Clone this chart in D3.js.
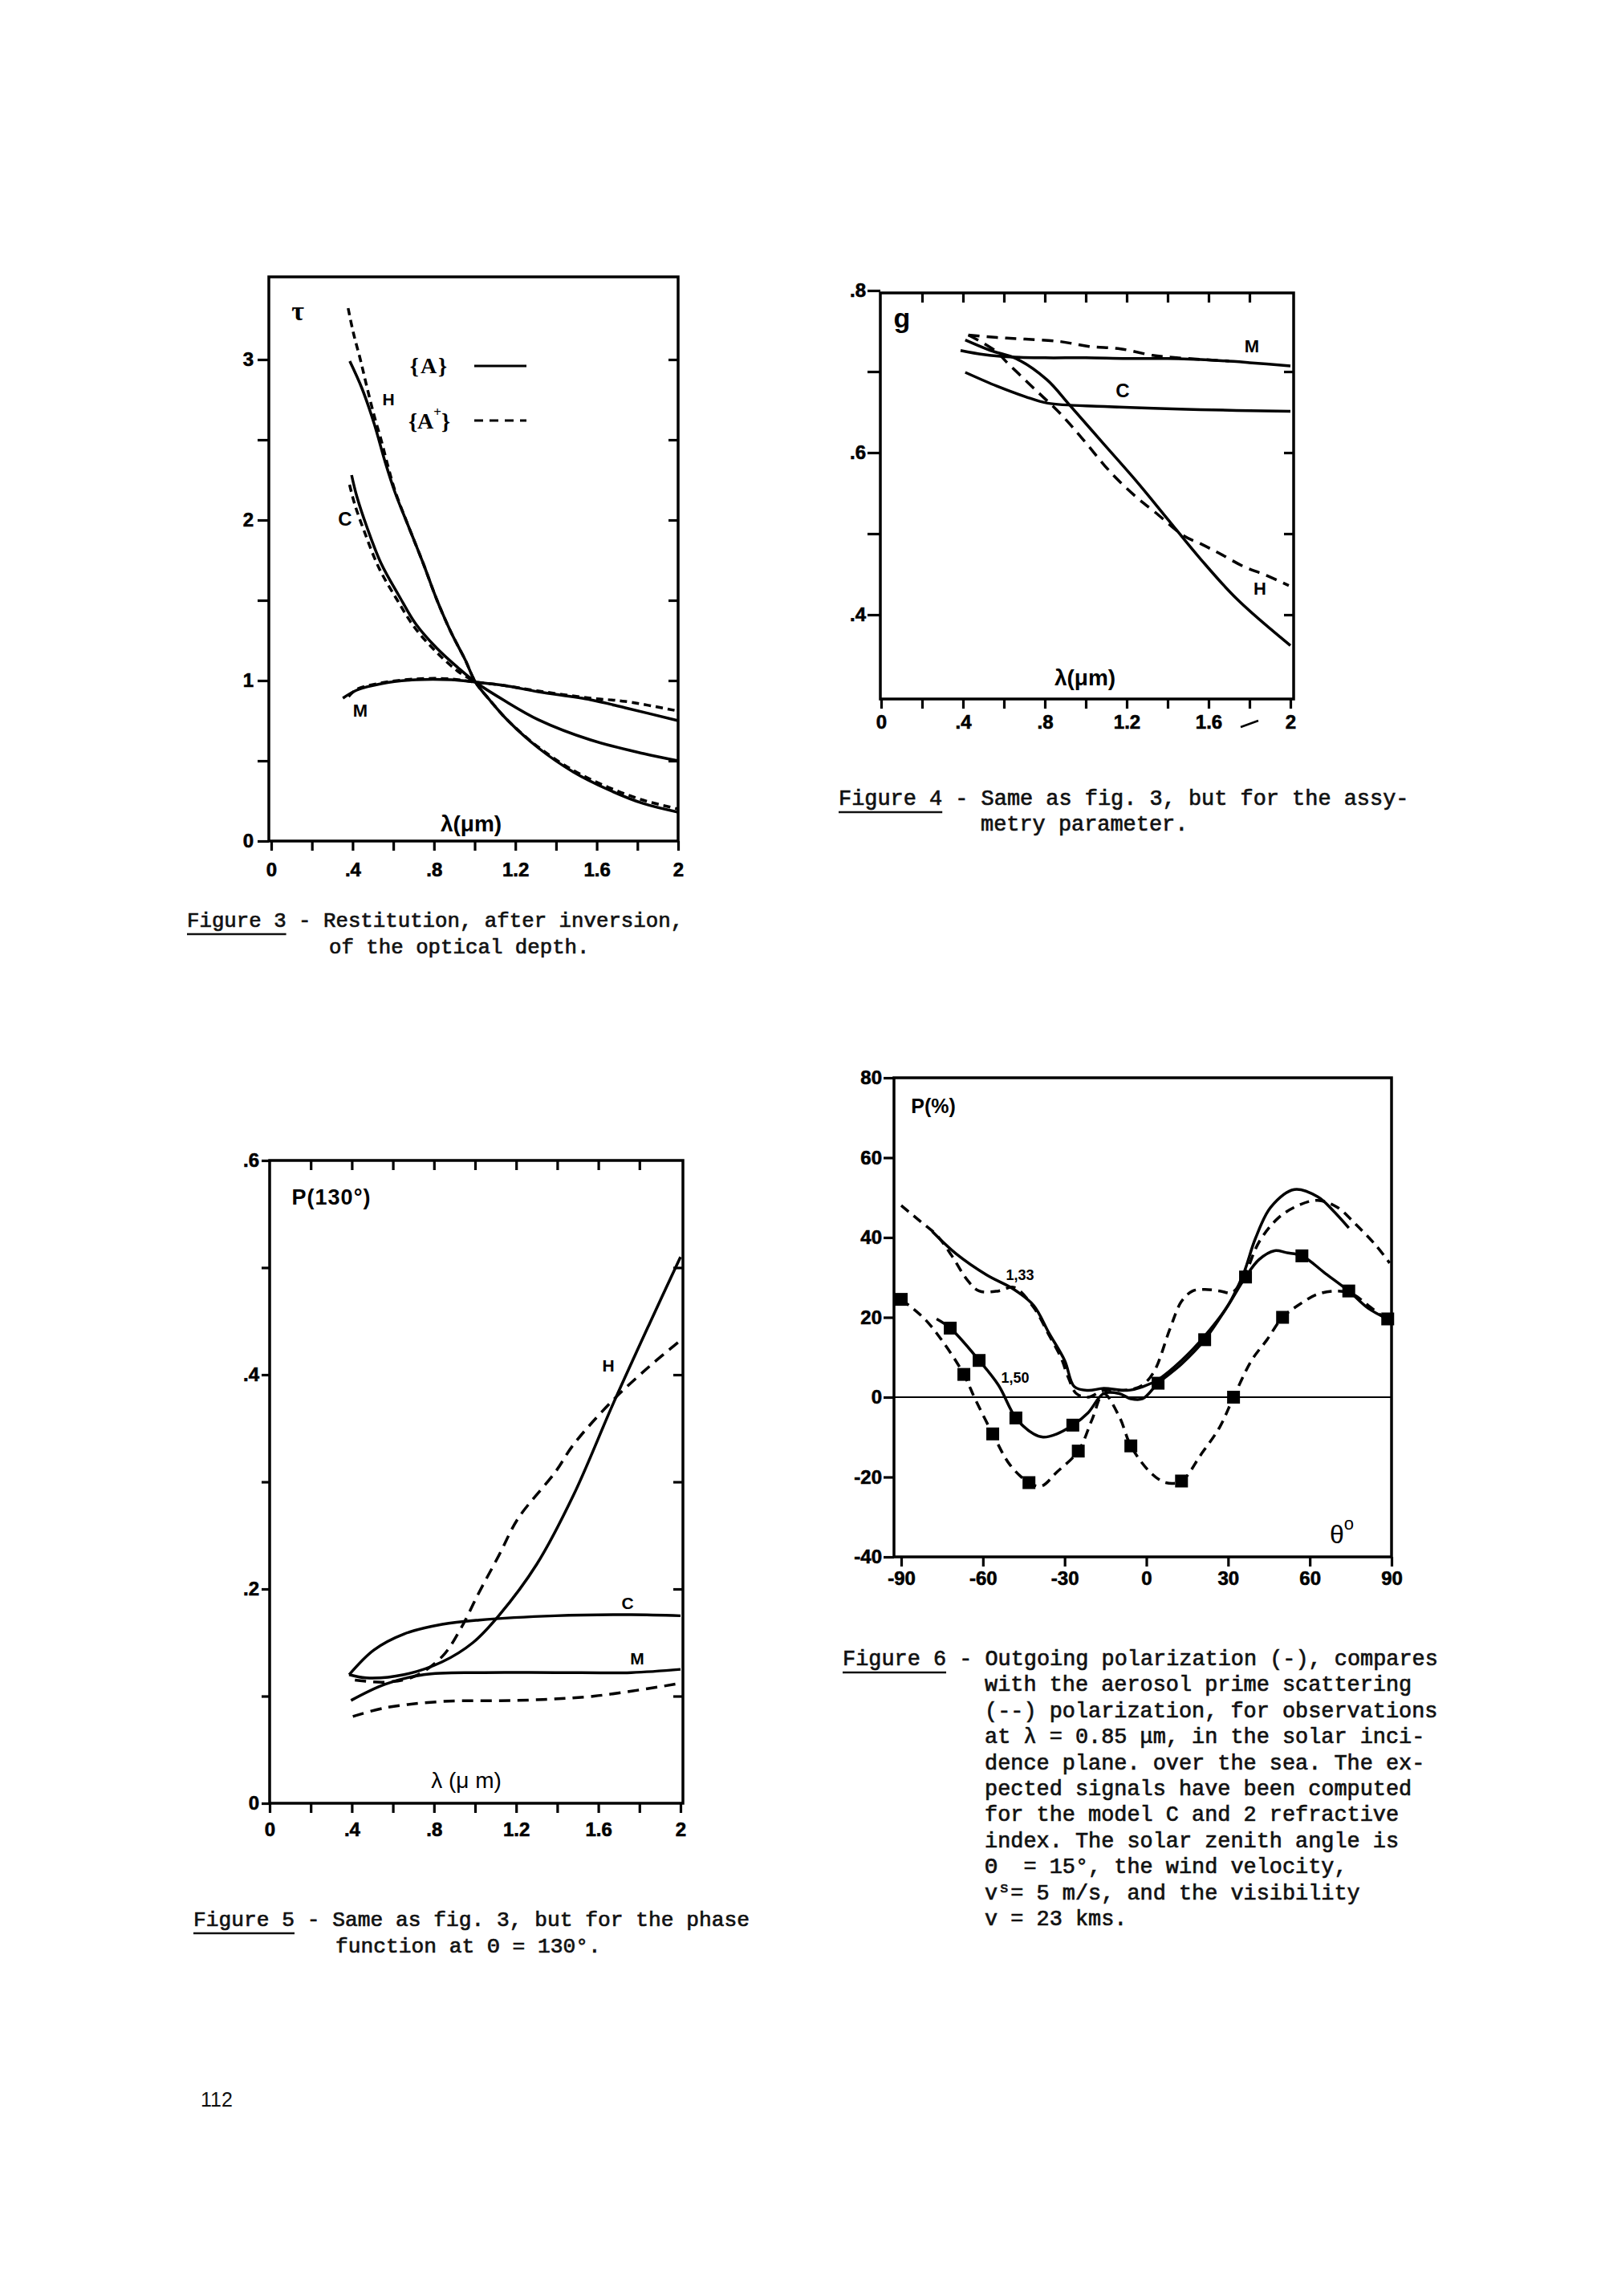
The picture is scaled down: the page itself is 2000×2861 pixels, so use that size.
<!DOCTYPE html>
<html>
<head>
<meta charset="utf-8">
<script src="https://cdn.jsdelivr.net/npm/d3@7"></script>
<style>
  body { margin: 0; background: #fff; }
</style>
</head>
<body>
<svg id="page"></svg>
<script>
// ====================================
// Données (lues sur la page scannée)
// ====================================

// Axes en longueur d'onde (fig. 3, 4, 5)
const lambdaTicks = [0, 0.2, 0.4, 0.6, 0.8, 1.0, 1.2, 1.4, 1.6, 1.8, 2.0];
const lambdaInnerTicks = [0.2, 0.4, 0.6, 0.8, 1.0, 1.2, 1.4, 1.6, 1.8];
const lambdaLabelValues = [0, 0.4, 0.8, 1.2, 1.6, 2];
const lambdaLabels = ["0", ".4", ".8", "1.2", "1.6", "2"];

// Figure 3 : épaisseur optique
const tauTicks = [0, 0.5, 1, 1.5, 2, 2.5, 3];
const tauLabelValues = [0, 1, 2, 3];
const tauLabels = ["0", "1", "2", "3"];
const tauHSolid = [[0.386, 2.99], [0.446, 2.82], [0.506, 2.60], [0.558, 2.37], [0.609, 2.17], [0.678, 1.95], [0.747, 1.73], [0.815, 1.50], [0.884, 1.30], [0.953, 1.13], [1.004, 0.99], [1.073, 0.88], [1.159, 0.756], [1.313, 0.58], [1.485, 0.43], [1.657, 0.32], [1.828, 0.234], [2.0, 0.18]];
const tauHDashed = [[0.378, 3.32], [0.403, 3.17], [0.438, 3.0], [0.472, 2.82], [0.506, 2.65], [0.54, 2.50], [0.575, 2.33], [0.609, 2.18], [0.678, 1.95], [0.747, 1.73], [0.815, 1.50], [0.884, 1.30], [0.953, 1.13], [1.004, 0.99], [1.073, 0.88], [1.159, 0.756], [1.313, 0.585], [1.485, 0.44], [1.657, 0.335], [1.828, 0.255], [2.0, 0.2]];
const tauCSolid = [[0.395, 2.28], [0.42, 2.15], [0.472, 1.95], [0.54, 1.73], [0.627, 1.53], [0.712, 1.35], [0.815, 1.20], [0.918, 1.08], [1.004, 0.99], [1.14, 0.88], [1.313, 0.756], [1.57, 0.63], [1.83, 0.545], [2.0, 0.50]];
const tauCDashed = [[0.385, 2.22], [0.41, 2.10], [0.46, 1.92], [0.53, 1.70], [0.62, 1.50], [0.705, 1.33], [0.81, 1.18], [0.915, 1.06], [1.004, 0.99]];
const tauMSolid = [[0.352, 0.89], [0.42, 0.94], [0.54, 0.98], [0.712, 1.005], [0.884, 1.005], [1.004, 0.99], [1.14, 0.97], [1.313, 0.93], [1.57, 0.88], [1.74, 0.83], [2.0, 0.75]];
const tauMDashed = [[0.38, 0.90], [0.42, 0.945], [0.54, 0.985], [0.712, 1.01], [0.884, 1.01], [1.004, 0.99], [1.14, 0.97], [1.313, 0.935], [1.57, 0.89], [1.74, 0.87], [2.0, 0.81]];

// Figure 4 : paramètre d'asymétrie
const gTicks = [0.4, 0.5, 0.6, 0.7, 0.8];
const gInnerTicks = [0.4, 0.5, 0.6, 0.7];
const gLabelValues = [0.4, 0.6, 0.8];
const gLabels = [".4", ".6", ".8"];
const gMSolid = [[0.388, 0.726], [0.5, 0.721], [0.63, 0.718], [0.8, 0.717], [1.0, 0.717], [1.2, 0.716], [1.4, 0.716], [1.62, 0.714], [1.8, 0.711], [2.0, 0.707]];
const gMDashed = [[0.426, 0.745], [0.566, 0.742], [0.705, 0.740], [0.876, 0.737], [1.016, 0.731], [1.17, 0.728], [1.326, 0.720], [1.40, 0.718], [1.56, 0.715], [1.7, 0.713]];
const gHSolid = [[0.411, 0.739], [0.535, 0.726], [0.66, 0.716], [0.81, 0.69], [0.92, 0.659], [1.09, 0.61], [1.25, 0.564], [1.40, 0.518], [1.56, 0.469], [1.74, 0.419], [2.0, 0.362]];
const gHDashed = [[0.426, 0.745], [0.50, 0.735], [0.566, 0.724], [0.612, 0.712], [0.752, 0.678], [0.876, 0.648], [0.984, 0.617], [1.124, 0.575], [1.248, 0.545], [1.341, 0.526], [1.481, 0.497], [1.558, 0.488], [1.651, 0.476], [1.775, 0.459], [1.868, 0.450], [1.992, 0.436]];
const gCSolid = [[0.411, 0.699], [0.566, 0.682], [0.705, 0.669], [0.814, 0.661], [1.09, 0.657], [1.56, 0.653], [2.0, 0.651]];

// Figure 5 : fonction de phase à 130°
const pTicks = [0, 0.1, 0.2, 0.3, 0.4, 0.5, 0.6];
const pInnerTicks = [0.1, 0.2, 0.3, 0.4, 0.5];
const pLabelValues = [0, 0.2, 0.4, 0.6];
const pLabels = ["0", ".2", ".4", ".6"];
const pHSolid = [[0.387, 0.120], [0.47, 0.117], [0.654, 0.120], [0.84, 0.132], [0.99, 0.150], [1.115, 0.175], [1.30, 0.223], [1.48, 0.288], [1.67, 0.372], [1.85, 0.448], [2.0, 0.51]];
const pHDashed = [[0.415, 0.115], [0.56, 0.113], [0.70, 0.118], [0.84, 0.137], [0.93, 0.163], [1.02, 0.197], [1.115, 0.231], [1.21, 0.266], [1.39, 0.309], [1.48, 0.335], [1.67, 0.376], [1.85, 0.408], [2.0, 0.432]];
const pCSolid = [[0.387, 0.12], [0.507, 0.143], [0.654, 0.158], [0.84, 0.167], [1.02, 0.171], [1.39, 0.175], [1.76, 0.176], [2.0, 0.175]];
const pMSolid = [[0.396, 0.096], [0.56, 0.111], [0.75, 0.120], [1.02, 0.122], [1.39, 0.122], [1.76, 0.122], [2.0, 0.125]];
const pMDashed = [[0.405, 0.081], [0.56, 0.089], [0.84, 0.095], [1.21, 0.096], [1.58, 0.100], [2.0, 0.112]];

// Figure 6 : polarisation en fonction de l'angle de visée
const thetaTicks = [-90, -60, -30, 0, 30, 60, 90];
const thetaLabels = ["-90", "-60", "-30", "0", "30", "60", "90"];
const polTicks = [-40, -20, 0, 20, 40, 60, 80];
const polLabels = ["-40", "-20", "0", "20", "40", "60", "80"];
const pol133Solid = [[-78.6, 41.5], [-70, 36], [-58.6, 30.6], [-48.6, 27], [-41.4, 23], [-35.7, 16], [-30, 9.2], [-26.4, 2.6], [-21.4, 1.7], [-15.7, 2.2], [-7.1, 1.7], [-1.4, 2.6], [4.3, 4.4], [12.9, 9.2], [21.4, 15.3], [30, 23], [35.7, 31], [40, 39.7], [45.7, 47.6], [54.3, 52], [62.9, 50.2], [68.6, 46.7], [74.3, 42.4]];
const pol133Dashed = [[-90, 48], [-82.9, 44], [-77, 40.6], [-71.4, 35.4], [-65.7, 29.3], [-61.4, 26.6], [-54.3, 26.6], [-48.6, 27.5], [-41.4, 22.5], [-35.7, 15.5], [-31.4, 10], [-28.6, 4.8], [-25.7, 0.9], [-21.4, 0], [-15.7, 1.7], [-10, 1.7], [-5, 2], [-1.4, 3], [2.9, 6.5], [8.6, 17], [12.9, 24], [17, 26.6], [21.4, 27], [27, 26.6], [31.4, 26.2], [35.7, 30], [41.4, 38.9], [48.6, 45], [55.7, 48], [62.9, 49.3], [70, 47.6], [77, 43.2], [84.3, 38], [89.3, 33.6]];
const pol150Solid = [[-77, 19.6], [-72, 17.3], [-61.4, 9.2], [-54.3, 3], [-47.9, -5.2], [-41.4, -9.2], [-37.9, -10], [-32.9, -9.2], [-27, -7], [-21.4, -3.9], [-15.7, 0.9], [-10, 0.9], [-5.7, -0.4], [-1.4, -0.4], [4.3, 3.5], [12.9, 8.3], [21.4, 14.4], [30, 23], [36.4, 30.1], [41.4, 34.5], [47.1, 36.7], [51.4, 36.2], [57.1, 35.4], [65.7, 31], [74.3, 26.6], [81.4, 22.3], [88.6, 19.6]];
const pol150Dashed = [[-90, 24.5], [-81.4, 19.6], [-74.3, 13.5], [-67, 5.7], [-62.9, -0.4], [-56.4, -9.2], [-50, -17], [-43.1, -21.4], [-38.6, -22.3], [-32.9, -18.8], [-25, -13.5], [-20, -5.7], [-15.7, 0.9], [-10, -4.8], [-5.7, -12.2], [1.4, -18.8], [7.1, -21.4], [12.9, -21], [20, -14.4], [27, -7.4], [32, 0], [38.6, 9.2], [44.3, 14.4], [50, 20], [55.7, 23], [62.9, 25.8], [70, 26.6], [75.7, 25.8], [81.4, 23], [88.6, 19.2]];
const pol150SolidMarks = [[-72, 17.3], [-61.4, 9.2], [-47.9, -5.2], [-27, -7], [4.3, 3.5], [21.4, 14.4], [36.4, 30.1], [57.1, 35.4], [74.3, 26.6], [88.6, 19.6]];
const pol150DashedMarks = [[-90, 24.5], [-67, 5.7], [-56.4, -9.2], [-43.1, -21.4], [-25, -13.5], [-5.7, -12.2], [12.9, -21], [32, 0], [50, 20]];

// Légendes des figures
const caption3 = ["Figure 3 - Restitution, after inversion,", "of the optical depth."];
const caption4 = ["Figure 4 - Same as fig. 3, but for the assy-", "metry parameter."];
const caption5 = ["Figure 5 - Same as fig. 3, but for the phase", "function at Θ = 130°."];
const caption6 = [
    "Figure 6 - Outgoing polarization (-), compares",
    "with the aerosol prime scattering",
    "(--) polarization, for observations",
    "at λ = 0.85 μm, in the solar inci-",
    "dence plane. over the sea. The ex-",
    "pected signals have been computed",
    "for the model C and 2 refractive",
    "index. The solar zenith angle is",
    "Θ  = 15°, the wind velocity,",
    "v = 5 m/s, and the visibility",
    "v = 23 kms."
];

// ====================================
// Mise en page
// ====================================
const SANS = "'Liberation Sans', Arial, sans-serif";
const MONO = "'Liberation Mono', 'Courier New', monospace";
const SERIF = "'Liberation Serif', 'Times New Roman', serif";
const TICK_FONT = 24;
const CURVE_WIDTH = 3.5;

const svg = d3.select("#page")
    .attr("width", 2000)
    .attr("height", 2861)
    .style("background", "#fff");

/**
 * Formatteur : n'écrit l'étiquette que pour les valeurs listées
 */
function labelFormat(values, labels) {
    return d => {
        const i = values.findIndex(v => Math.abs(v - d) < 1e-6);
        return i < 0 ? "" : labels[i];
    };
}

/**
 * Crée un panneau : échelles + cadre
 */
function makePanel(cfg) {
    const g = svg.append("g").attr("class", cfg.id);
    const x = d3.scaleLinear().domain(cfg.xDomain).range(cfg.xRange);
    const y = d3.scaleLinear().domain(cfg.yDomain).range(cfg.yRange);
    const [x0, y0, x1, y1] = cfg.box;

    g.append("rect")
        .attr("x", x0)
        .attr("y", y0)
        .attr("width", x1 - x0)
        .attr("height", y1 - y0)
        .attr("fill", "none")
        .attr("stroke", "#000")
        .attr("stroke-width", 3.5);

    return { g, x, y, box: cfg.box };
}

/**
 * Ajoute un axe d3 et lui donne l'aspect du scan
 */
function addAxis(panel, axis, tx, ty) {
    const a = panel.g.append("g")
        .attr("transform", `translate(${tx},${ty})`)
        .call(axis);
    a.select(".domain").remove();
    a.selectAll(".tick line")
        .attr("stroke", "#000")
        .attr("stroke-width", 3.2);
    a.selectAll(".tick text")
        .attr("fill", "#000")
        .attr("stroke", "#000")
        .attr("stroke-width", 0.6)
        .style("font-family", SANS)
        .style("font-weight", "bold")
        .style("font-size", TICK_FONT + "px");
    return a;
}

/**
 * Trace une courbe lissée (pleine ou en tirets)
 */
function addCurve(panel, data, dash) {
    const line = d3.line()
        .x(d => panel.x(d[0]))
        .y(d => panel.y(d[1]))
        .curve(d3.curveCatmullRom.alpha(0.5));
    panel.g.append("path")
        .datum(data)
        .attr("d", line)
        .attr("fill", "none")
        .attr("stroke", "#000")
        .attr("stroke-width", CURVE_WIDTH)
        .attr("stroke-linecap", "butt")
        .attr("stroke-dasharray", dash || null);
}

function addLabel(parent, txt, x, y, size, opts = {}) {
    return parent.append("text")
        .attr("x", x)
        .attr("y", y)
        .attr("text-anchor", opts.anchor || "middle")
        .attr("dominant-baseline", "central")
        .style("font-family", opts.family || SANS)
        .style("font-weight", opts.weight || "bold")
        .style("font-size", size + "px")
        .style("letter-spacing", opts.spacing || null)
        .attr("fill", "#000")
        .text(txt);
}

/**
 * Légende dactylographiée d'une figure
 * (subLine : ligne où l'indice "s" se glisse entre "v" et "=")
 */
function addCaption(lines, x0, baseline, adv, step, indentX, subLine) {
    const size = adv / 0.6;
    const g = svg.append("g").attr("class", "caption");
    lines.forEach((txt, i) => {
        const t = g.append("text")
            .attr("x", i === 0 ? x0 : indentX)
            .attr("y", baseline + i * step)
            .style("font-family", MONO)
            .style("font-size", size + "px")
            .attr("fill", "#111")
            .attr("stroke", "#111")
            .attr("stroke-width", 0.7)
            .attr("xml:space", "preserve");
        if (i === subLine) {
            t.append("tspan").text(txt.slice(0, 1));
            t.append("tspan")
                .attr("x", indentX + adv * 1.15)
                .attr("dy", -9)
                .style("font-size", "19px")
                .text("s");
            t.append("tspan")
                .attr("x", indentX + adv * 2)
                .attr("dy", 9)
                .text(txt.slice(2));
        } else {
            t.text(txt);
        }
    });
    // soulignement de "Figure n"
    g.append("line")
        .attr("x1", x0)
        .attr("x2", x0 + adv * 8)
        .attr("y1", baseline + 9)
        .attr("y2", baseline + 9)
        .attr("stroke", "#111")
        .attr("stroke-width", 2.5);
    return { g, size };
}

// ====================================
// Figure 3
// ====================================
const p3 = makePanel({
    id: "fig3",
    xDomain: [0, 2], xRange: [338, 845],
    yDomain: [0, 3.5], yRange: [1048, 348],
    box: [335, 345, 845, 1048]
});
addAxis(p3, d3.axisBottom(p3.x).tickValues(lambdaTicks).tickSize(12).tickPadding(15)
    .tickFormat(labelFormat(lambdaLabelValues, lambdaLabels)), 0, 1048);
addAxis(p3, d3.axisLeft(p3.y).tickValues(tauTicks).tickSize(14).tickPadding(5)
    .tickFormat(labelFormat(tauLabelValues, tauLabels)), 335, 0);
addAxis(p3, d3.axisLeft(p3.y).tickValues(tauTicks.slice(1)).tickSize(12).tickFormat(""), 845, 0);

addCurve(p3, tauHSolid);
addCurve(p3, tauHDashed, "9,6");
addCurve(p3, tauCSolid);
addCurve(p3, tauCDashed, "9,6");
addCurve(p3, tauMSolid);
addCurve(p3, tauMDashed, "9,6");

addLabel(p3.g, "τ", 371, 387, 34, { family: SERIF });
addLabel(p3.g, "H", 484, 497, 21);
addLabel(p3.g, "C", 430, 646, 24);
addLabel(p3.g, "M", 449, 885, 22);
addLabel(p3.g, "λ(μm)", 587, 1026, 28);

// légende {A} / {A+}
addLabel(p3.g, "{A}", 535, 455, 28, { family: SERIF, spacing: "2px" });
const aPlus = p3.g.append("text")
    .attr("x", 535).attr("y", 524)
    .attr("text-anchor", "middle")
    .attr("dominant-baseline", "central")
    .style("font-family", SERIF)
    .style("font-weight", "bold")
    .style("font-size", "28px")
    .attr("fill", "#000");
aPlus.append("tspan").text("{A");
aPlus.append("tspan").attr("dy", -11).style("font-size", "17px").text("+");
aPlus.append("tspan").attr("dy", 11).text("}");
p3.g.append("line").attr("x1", 591).attr("x2", 656).attr("y1", 456).attr("y2", 456)
    .attr("stroke", "#000").attr("stroke-width", 3.2);
p3.g.append("line").attr("x1", 591).attr("x2", 656).attr("y1", 524).attr("y2", 524)
    .attr("stroke", "#000").attr("stroke-width", 3.2).attr("stroke-dasharray", "11,8");

addCaption(caption3, 233, 1155, 15.45, 33, 410);

// ====================================
// Figure 4
// ====================================
const p4 = makePanel({
    id: "fig4",
    xDomain: [0, 2], xRange: [1098, 1608],
    yDomain: [0.4, 0.8], yRange: [766, 362],
    box: [1097, 365, 1612, 871]
});
addAxis(p4, d3.axisBottom(p4.x).tickValues(lambdaTicks).tickSize(12).tickPadding(8)
    .tickFormat(labelFormat(lambdaLabelValues, lambdaLabels)), 0, 871);
addAxis(p4, d3.axisBottom(p4.x).tickValues(lambdaInnerTicks).tickSize(12).tickFormat(""), 0, 365);
addAxis(p4, d3.axisLeft(p4.y).tickValues(gTicks).tickSize(16).tickPadding(2)
    .tickFormat(labelFormat(gLabelValues, gLabels)), 1097, 0);
addAxis(p4, d3.axisLeft(p4.y).tickValues(gInnerTicks).tickSize(12).tickFormat(""), 1612, 0);

addCurve(p4, gMSolid);
addCurve(p4, gMDashed, "14,9");
addCurve(p4, gHSolid);
addCurve(p4, gHDashed, "14,9");
addCurve(p4, gCSolid);

addLabel(p4.g, "g", 1124, 396, 34);
addLabel(p4.g, "M", 1560, 431, 22);
addLabel(p4.g, "C", 1399, 486, 24);
addLabel(p4.g, "H", 1570, 733, 22);
addLabel(p4.g, "λ(μm)", 1352, 844, 28);
// petit trait parasite entre 1.6 et 2
p4.g.append("line").attr("x1", 1546).attr("y1", 906).attr("x2", 1568).attr("y2", 898)
    .attr("stroke", "#000").attr("stroke-width", 2.5);

addCaption(caption4, 1045, 1003, 16.15, 32, 1222);

// ====================================
// Figure 5
// ====================================
const p5 = makePanel({
    id: "fig5",
    xDomain: [0, 2], xRange: [336, 848],
    yDomain: [0, 0.6], yRange: [2247, 1446],
    box: [336, 1446, 851, 2247]
});
addAxis(p5, d3.axisBottom(p5.x).tickValues(lambdaTicks).tickSize(12).tickPadding(12)
    .tickFormat(labelFormat(lambdaLabelValues, lambdaLabels)), 0, 2247);
addAxis(p5, d3.axisBottom(p5.x).tickValues(lambdaInnerTicks).tickSize(12).tickFormat(""), 0, 1446);
addAxis(p5, d3.axisLeft(p5.y).tickValues(pTicks).tickSize(10).tickPadding(3)
    .tickFormat(labelFormat(pLabelValues, pLabels)), 336, 0);
addAxis(p5, d3.axisLeft(p5.y).tickValues(pInnerTicks).tickSize(12).tickFormat(""), 851, 0);

addCurve(p5, pHSolid);
addCurve(p5, pHDashed, "14,9");
addCurve(p5, pCSolid);
addCurve(p5, pMSolid);
addCurve(p5, pMDashed, "14,9");

addLabel(p5.g, "P(130°)", 413, 1492, 27, { spacing: "1px" });
addLabel(p5.g, "H", 758, 1701, 21);
addLabel(p5.g, "C", 782, 1997, 21);
addLabel(p5.g, "M", 794, 2066, 21);
addLabel(p5.g, "λ (μ m)", 581, 2218, 28, { weight: "normal" });

addCaption(caption5, 241, 2400, 15.75, 33, 418);

// ====================================
// Figure 6
// ====================================
const p6 = makePanel({
    id: "fig6",
    xDomain: [-90, 90], xRange: [1123, 1734],
    yDomain: [-40, 80], yRange: [1940, 1343],
    box: [1114, 1343, 1734, 1940]
});
addAxis(p6, d3.axisBottom(p6.x).tickValues(thetaTicks).tickSize(12).tickPadding(6)
    .tickFormat(labelFormat(thetaTicks, thetaLabels)), 0, 1940);
addAxis(p6, d3.axisLeft(p6.y).tickValues(polTicks).tickSize(13).tickPadding(2)
    .tickFormat(labelFormat(polTicks, polLabels)), 1114, 0);

// ligne du zéro
p6.g.append("line")
    .attr("x1", 1114).attr("x2", 1734)
    .attr("y1", p6.y(0)).attr("y2", p6.y(0))
    .attr("stroke", "#000").attr("stroke-width", 2);

addCurve(p6, pol133Solid);
addCurve(p6, pol133Dashed, "12,8");
addCurve(p6, pol150Solid);
addCurve(p6, pol150Dashed, "12,8");

const markSize = 16;
p6.g.selectAll("rect.mark")
    .data(pol150SolidMarks.concat(pol150DashedMarks))
    .join("rect")
    .attr("class", "mark")
    .attr("x", d => p6.x(d[0]) - markSize / 2)
    .attr("y", d => p6.y(d[1]) - markSize / 2)
    .attr("width", markSize)
    .attr("height", markSize)
    .attr("fill", "#000");

addLabel(p6.g, "P(%)", 1163, 1378, 25);
addLabel(p6.g, "1,33", 1271, 1589, 18);
addLabel(p6.g, "1,50", 1265, 1717, 18);
const th = p6.g.append("text")
    .attr("x", 1672).attr("y", 1912)
    .attr("text-anchor", "middle")
    .attr("dominant-baseline", "central")
    .style("font-family", SANS)
    .style("font-size", "32px")
    .attr("fill", "#000");
th.append("tspan").text("θ");
th.append("tspan").attr("dy", -14).style("font-size", "22px").text("o");

// ligne 9 (index) : "v" + indice "s" de Θs glissé au-dessus du "="
addCaption(caption6, 1050, 2075, 16.13, 32.4, 1227, 9);

// ====================================
// Numéro de page
// ====================================
svg.append("text")
    .attr("x", 250)
    .attr("y", 2625)
    .style("font-family", SANS)
    .style("font-size", "25px")
    .attr("fill", "#111")
    .text("112");
</script>
</body>
</html>
